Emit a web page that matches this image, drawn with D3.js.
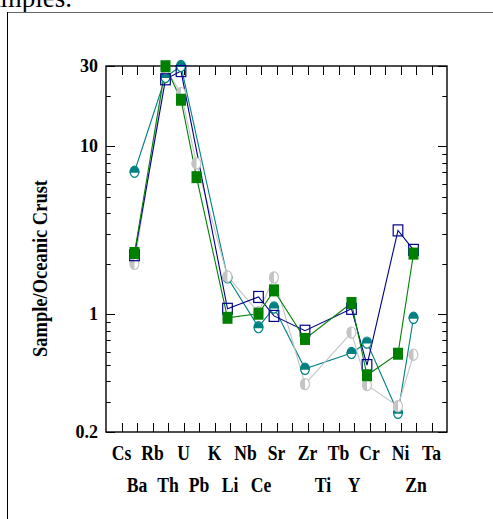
<!DOCTYPE html>
<html>
<head>
<meta charset="utf-8">
<script src="https://cdn.jsdelivr.net/npm/d3@7"></script>
<style>
  body { margin: 0; background: #fff; overflow: hidden; }
  svg text { font-family: "Liberation Serif", "Times New Roman", serif; }
</style>
</head>
<body>
<script>
var w = 493;
var h = 519;

// element slots along the x axis (blank = unlabeled slot)
var elements = ["Cs", "Ba", "Rb", "Th", "U", "Pb", "K", "Li", "Nb", "Ce", "Sr", "",
                "Zr", "Ti", "Tb", "Y", "Cr", "", "Ni", "Zn", "Ta"];

// sample / oceanic crust, null = not analysed
var blueVals  = [null, 2.25, null, 25,   28,   null, null, 1.08, null, 1.27, 0.98, null,
                 0.80, null, null, 1.08, 0.50, null, 3.16, 2.42, null];
var greenVals = [null, 2.32, null, 29.9, 18.9, 6.55, null, 0.955, null, 1.01, 1.39, null,
                 0.715, null, null, 1.17, 0.435, null, 0.584, 2.30, null];
var tealVals  = [null, 7.05, null, 25.8, 30,   null, null, 1.66, null, 0.84, 1.10, null,
                 0.475, null, null, 0.59, 0.68, null, 0.26, 0.955, null];
var grayVals  = [null, 2.0,  null, 29,   20.7, 7.9,  null, 1.68, null, 1.03, 1.66, null,
                 0.385, null, null, 0.78, 0.38, null, 0.285, 0.576, null];

var yMajor = [0.2, 1, 10, 30];
var yMinor = [0.3, 0.4, 0.5, 0.6, 0.7, 0.8, 0.9, 2, 3, 4, 5, 6, 7, 8, 9, 20];

var svg = d3.select("body").append("svg")
            .attr("width", w)
            .attr("height", h);

// page bits around the figure
svg.append("text")
   .attr("x", 72).attr("y", 6.5)
   .attr("text-anchor", "end")
   .attr("font-size", 27)
   .text("samples.");
svg.append("line")
   .attr("x1", 7).attr("x2", w).attr("y1", 12.5).attr("y2", 12.5)
   .attr("stroke", "#666").attr("stroke-width", 1);
svg.append("line")
   .attr("x1", 7.5).attr("x2", 7.5).attr("y1", 12).attr("y2", h)
   .attr("stroke", "#000").attr("stroke-width", 1);

var pL = 106, pR = 447, pT = 66, pB = 432;

var x = d3.scaleLinear().domain([0, elements.length + 1]).range([pL, pR]);
var y = d3.scaleLog().domain([0.2, 30]).range([pB, pT]);
var shift = -2.5; // symbols sit a little left of the ticks

// ticks (inward on all four sides)
var ticks = svg.append("g").attr("stroke", "#000").attr("stroke-width", 1);
elements.forEach(function(e, i) {
  var xx = Math.round(x(i + 1)) + 0.5;
  ticks.append("line").attr("x1", xx).attr("x2", xx).attr("y1", pT).attr("y2", pT + 9);
  ticks.append("line").attr("x1", xx).attr("x2", xx).attr("y1", pB).attr("y2", pB - 9);
});
yMajor.concat(yMinor).forEach(function(v) {
  var len = yMajor.indexOf(v) >= 0 ? 9 : 4.7;
  var yy = Math.round(y(v)) + 0.5;
  ticks.append("line").attr("x1", pL).attr("x2", pL + len).attr("y1", yy).attr("y2", yy);
  ticks.append("line").attr("x1", pR).attr("x2", pR - len).attr("y1", yy).attr("y2", yy);
});

// frame
svg.append("rect")
   .attr("x", pL).attr("y", pT)
   .attr("width", pR - pL).attr("height", pB - pT)
   .attr("fill", "none").attr("stroke", "#000").attr("stroke-width", 1.4);

// y labels
svg.selectAll(".ylab").data(yMajor).enter().append("text")
   .attr("x", 98)
   .attr("y", function(d) { return y(d) + 6; })
   .attr("text-anchor", "end")
   .attr("font-size", 18)
   .attr("font-weight", "bold")
   .text(function(d) { return d; });

svg.append("text")
   .attr("transform", "translate(47,268.5) rotate(-90)")
   .attr("text-anchor", "middle")
   .attr("font-size", 20)
   .attr("font-weight", "bold")
   .attr("textLength", 177)
   .attr("lengthAdjust", "spacingAndGlyphs")
   .text("Sample/Oceanic Crust");

// x labels, two staggered rows
elements.forEach(function(e, i) {
  if (!e) return;
  var yy = (i % 2 === 0) ? 460 : 492;
  svg.append("text")
     .attr("transform", "translate(" + x(i + 1) + "," + yy + ") scale(0.84,1)")
     .attr("text-anchor", "middle")
     .attr("font-size", 21)
     .attr("font-weight", "bold")
     .text(e);
});

var series = [
  {vals: tealVals,  color: "#008080", kind: "tealc"},
  {vals: grayVals,  color: "#c4c4c4", kind: "grayc"},
  {vals: blueVals,  color: "#000088", kind: "open"},
  {vals: greenVals, color: "#008000", kind: "filled"}
];

var line = d3.line()
             .x(function(d) { return x(d.i + 1) + shift; })
             .y(function(d) { return y(d.v); });

function pts(vals) {
  return vals.map(function(v, i) { return {i: i, v: v}; })
             .filter(function(d) { return d.v != null; });
}

series.forEach(function(s) {
  svg.append("path")
     .attr("d", line(pts(s.vals)))
     .attr("fill", "none")
     .attr("stroke", s.color)
     .attr("stroke-width", 1.1);
});

series.forEach(function(s) {
  var g = svg.append("g");
  pts(s.vals).forEach(function(d) {
    var cx = x(d.i + 1) + shift, cy = y(d.v);
    var m = g.append("g").attr("transform", "translate(" + cx + "," + cy + ")");
    if (s.kind === "open") {
      m.append("rect").attr("x", -4.8).attr("y", -5.5).attr("width", 9.6).attr("height", 11)
       .attr("fill", "none").attr("stroke", s.color).attr("stroke-width", 1.2);
    } else if (s.kind === "filled") {
      m.append("rect").attr("x", -5).attr("y", -6).attr("width", 10).attr("height", 12)
       .attr("fill", s.color);
    } else if (s.kind === "tealc") {
      m.append("ellipse").attr("rx", 4.4).attr("ry", 5.6)
       .attr("fill", "#fff").attr("stroke", s.color).attr("stroke-width", 1.2);
      m.append("path").attr("d", "M-5,1 A5,6.2 0 0 1 5,1 Z").attr("fill", s.color);
    } else {
      m.append("ellipse").attr("rx", 4.4).attr("ry", 5.6)
       .attr("fill", "#fff").attr("stroke", s.color).attr("stroke-width", 1.2);
      m.append("path").attr("d", "M0,-6 A5,6 0 0 0 0,6 Z").attr("fill", s.color);
    }
  });
});
</script>
</body>
</html>
